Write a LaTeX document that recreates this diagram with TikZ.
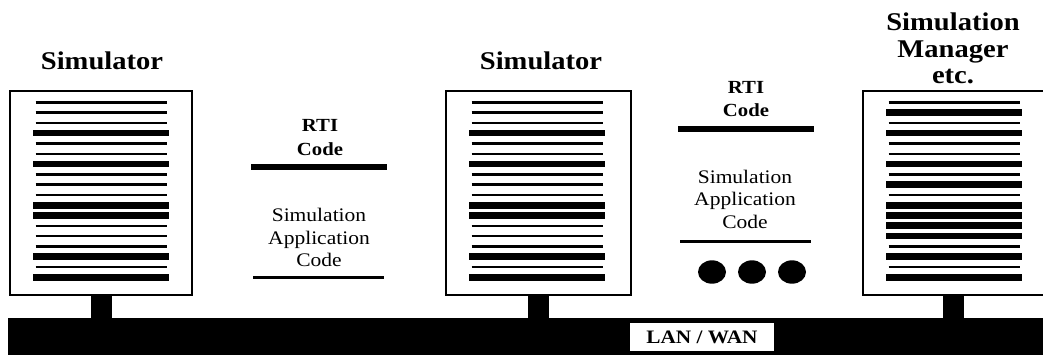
\documentclass[tikz,border=0pt]{standalone}
\usepackage{fontspec}
\setmainfont{Liberation Serif}[FakeStretch=1.12]
\usepackage{tikz}
\usetikzlibrary{positioning}

\tikzset{
  screen/.style={draw, line width=2pt, fill=white, minimum width=182pt,
    minimum height=204pt, inner sep=0pt, outer sep=0pt},
  rule0/.style={line width=2.4pt},
  rule1/.style={line width=6.6pt, shorten <=-2.5pt, shorten >=-2.5pt},
  stand/.style={line width=21pt},
  hostlabel/.style={font=\fontsize{25.5}{26.5}\selectfont\bfseries,
    align=center, anchor=base, inner sep=0pt},
  rtilabel/.style={font=\fontsize{18.5}{23.3}\selectfont\bfseries,
    align=center, anchor=base, inner sep=0pt},
  applabel/.style={font=\fontsize{19.2}{22.5}\selectfont,
    align=center, anchor=base, inner sep=0pt},
}

% lines of text on a screen: #1 = centre x, #2 = list of 0 (thin) / 1 (thick)
\newcommand{\screenlines}[2]{%
  \foreach \w [count=\k from 0] in {#2}
    \draw[rule\w] (#1-65.5, 102.3+10.29*\k) -- (#1+65.5, 102.3+10.29*\k);
}

\begin{document}
\begin{tikzpicture}[x=1pt, y=-1pt]
  \useasboundingbox (0,0) rectangle (1043,354);

  % network bar
  \node[fill=black, minimum width=1045pt, minimum height=37pt, inner sep=0pt,
    outer sep=0pt, anchor=north west] (lan) at (8,318) {};
  \node[fill=white, minimum width=144pt, minimum height=28pt, inner sep=0pt,
    font=\fontsize{19}{19}\selectfont\bfseries] (lanlabel) at (702,337) {LAN / WAN};

  % the three hosts
  \node[screen] (simA) at (101,193) {};
  \node[screen, minimum width=185pt] (simB) at (538,193) {};
  \node[screen] (simC) at (954,193) {};

  \draw[stand] (simA.south) -- (simA.south |- lan.north);
  \draw[stand] (simB.south) -- (simB.south |- lan.north);
  \draw[stand] ([xshift=-1pt]simC.south) -- ([xshift=-1pt]simC.south |- lan.north);

  \screenlines{101}{0,0,0,1,0,0,1,0,0,0,1,1,0,0,0,1,0,1}
  \screenlines{537}{0,0,0,1,0,0,1,0,0,0,1,1,0,0,0,1,0,1}
  \screenlines{954}{0,1,0,1,0,0,1,0,1,0,1,1,1,1,0,1,0,1}

  % names (base = last line)
  \node[hostlabel] (nameA) at (102,69.3) {Simulator};
  \node[hostlabel] (nameB) at (541,69.3) {Simulator};
  \node[hostlabel] (nameC) at (953,83.5) {Simulation\\Manager\\etc.};

  % software layers, first host
  \node[rtilabel] (rtiA) at (320,155) {RTI\\Code};
  \draw[line width=6.7pt] (251,167) -- (387,167);
  \node[applabel] (appA) at (319,266.7) {Simulation\\Application\\Code};
  \draw[line width=3pt] (253,277) -- (384,277);

  % software layers, second host
  \node[rtilabel] (rtiB) at (746,116.7) {RTI\\Code};
  \draw[line width=6.7pt] (678,129) -- (814,129);
  \node[applabel] (appB) at (745,228.3) {Simulation\\Application\\Code};
  \draw[line width=3pt] (680,241) -- (811,241);
  \foreach \x in {712,752,792}
    \fill (\x,272) ellipse [x radius=14pt, y radius=11.7pt];
\end{tikzpicture}
\end{document}
